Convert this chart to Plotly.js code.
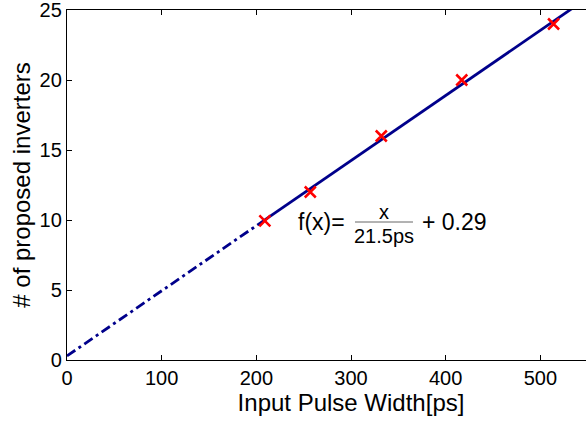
<!DOCTYPE html>
<html>
<head>
<meta charset="utf-8">
<script src="https://cdn.plot.ly/plotly-3.0.1.min.js"></script>
<style>
html,body{margin:0;padding:0;overflow:hidden;background:#fff;width:586px;height:421px;}
#chart{width:660px;height:421px;}
</style>
</head>
<body>
<div id="chart"></div>
<script>
// Measured data points
var pulseWidth = [209, 257, 332, 417, 514];
var inverters = [9.93, 12, 16, 20, 24];

// Fit line f(x) = x/21.5ps + 0.29, read at its end points
var fitDashX = [0, 209];
var fitDashY = [0.29, 10.01];
var fitSolidX = [209, 600];
var fitSolidY = [10.01, 28.2];

var xTicks = [0, 100, 200, 300, 400, 500, 600];
var xTickText = ['0', '100', '200', '300', '400', '500', ''];
var yTicks = [0, 5, 10, 15, 20, 25];

var font = "'Liberation Sans', Arial, Helvetica, sans-serif";
var navy = '#00008B';

var traces = [
  {x: fitDashX, y: fitDashY, mode: 'lines', line: {color: navy, width: 2.8, dash: '10px,4px,3px,4px'}, hoverinfo: 'skip'},
  {x: fitSolidX, y: fitSolidY, mode: 'lines', line: {color: navy, width: 2.8}, hoverinfo: 'skip'},
  {x: pulseWidth, y: inverters, mode: 'markers', marker: {symbol: 'x-thin', size: 11, line: {color: '#FF0000', width: 2.5}, color: '#FF0000'}}
];

function px2x(p){ return (p - 67) / 0.9467; }
function py2y(p){ return (360 - p) / 14; }

var layout = {
  width: 660, height: 421,
  margin: {l: 67, r: 25, t: 10, b: 61},
  showlegend: false,
  paper_bgcolor: '#fff', plot_bgcolor: '#fff',
  font: {family: font, color: '#000', size: 20},
  xaxis: {
    range: [0, 600], tickvals: xTicks, ticktext: xTickText,
    ticks: 'inside', ticklen: 5, tickwidth: 1, tickcolor: '#000',
    showline: true, linecolor: '#000', linewidth: 1.2, mirror: 'ticks',
    showgrid: false, zeroline: false, ticklabeloverflow: 'allow',
    tickfont: {family: font, size: 20},
    title: {text: 'Input Pulse Width[ps]', font: {family: font, size: 24}, standoff: 4}
  },
  yaxis: {
    range: [0, 25], tickvals: yTicks, ticktext: yTicks.map(String),
    ticks: 'inside', ticklen: 5, tickwidth: 1, tickcolor: '#000',
    showline: true, linecolor: '#000', linewidth: 1.2, mirror: 'ticks',
    showgrid: false, zeroline: false, ticklabeloverflow: 'allow',
    tickfont: {family: font, size: 20},
    title: {text: '# of proposed inverters', font: {family: font, size: 24}, standoff: 2}
  },
  shapes: [
    {type: 'line', xref: 'x', yref: 'y', x0: px2x(355), x1: px2x(413), y0: py2y(222), y1: py2y(222), line: {color: '#666', width: 1}}
  ],
  annotations: [
    {x: px2x(296), y: py2y(222), xref: 'x', yref: 'y', text: 'f(x)=', showarrow: false, xanchor: 'left', yanchor: 'middle', font: {family: font, size: 23}},
    {x: px2x(384), y: py2y(212), xref: 'x', yref: 'y', text: 'x', showarrow: false, xanchor: 'center', yanchor: 'middle', font: {family: font, size: 20}},
    {x: px2x(384), y: py2y(236), xref: 'x', yref: 'y', text: '21.5ps', showarrow: false, xanchor: 'center', yanchor: 'middle', font: {family: font, size: 20}},
    {x: px2x(420), y: py2y(222), xref: 'x', yref: 'y', text: '+ 0.29', showarrow: false, xanchor: 'left', yanchor: 'middle', font: {family: font, size: 23}}
  ]
};

Plotly.newPlot('chart', traces, layout, {displayModeBar: false, staticPlot: true});
</script>
</body>
</html>
